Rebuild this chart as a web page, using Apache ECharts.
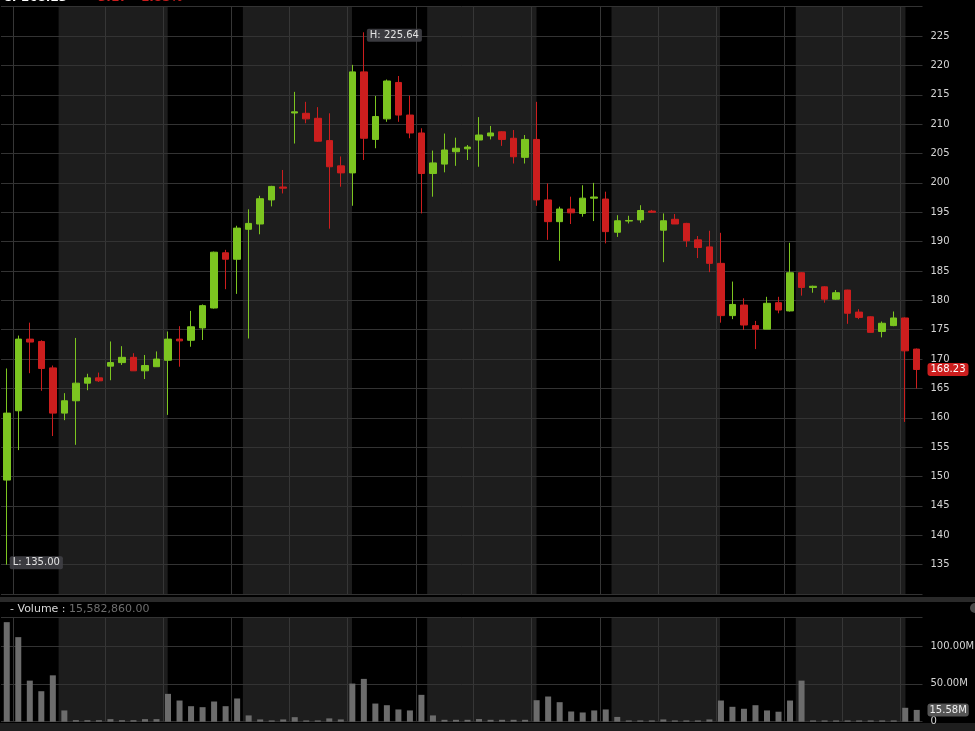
<!DOCTYPE html>
<html><head><meta charset="utf-8">
<script src="https://cdn.jsdelivr.net/npm/echarts@6/dist/echarts.min.js"></script>
<style>html,body{margin:0;padding:0;background:#000;}#c{width:975px;height:731px;}</style>
</head><body><div id="c"></div>
<script>
// ---- data ----
const categories = Array.from({length: 80}, (_, i) => String(i + 1));
const opens  = [149.4,161.2,173.4,173.0,168.5,160.8,162.9,165.9,166.8,168.8,169.4,170.3,168.0,168.7,169.8,173.4,173.2,175.3,178.7,188.1,
                187.0,192.1,193.0,197.1,199.3,211.9,211.85,211.0,207.2,202.9,201.7,218.9,207.4,210.9,217.1,211.55,208.5,201.6,203.2,205.3,
                205.8,207.3,208.0,208.7,207.6,204.35,207.4,197.1,193.4,195.55,194.8,197.4,197.25,191.6,193.5,193.7,195.2,191.95,193.8,193.1,
                190.3,189.1,186.3,177.4,179.2,175.7,175.1,179.6,178.2,184.7,182.2,182.3,180.2,181.75,178.0,177.2,174.7,175.7,177.0,171.7];
const closes = [160.8,173.4,172.9,168.4,160.8,162.9,165.9,166.8,166.3,169.4,170.3,168.0,168.9,170.0,173.4,173.1,175.5,179.1,188.2,187.0,
                192.3,193.1,197.3,199.4,199.1,212.1,210.9,207.1,202.75,201.7,218.9,207.6,211.3,217.35,211.55,208.5,201.6,203.4,205.6,205.9,
                206.1,208.15,208.5,207.4,204.45,207.4,197.1,193.4,195.55,194.9,197.4,197.6,191.7,193.55,193.6,195.3,195.0,193.55,193.0,190.15,
                189.0,186.3,177.4,179.3,175.8,175.1,179.5,178.35,184.7,182.2,182.4,180.2,181.3,177.8,177.1,174.55,176.1,177.0,171.4,168.23];
const lows   = [135.0,154.5,167.6,164.6,156.9,159.6,155.4,164.7,166.1,166.4,169.0,168.0,166.6,168.7,160.5,168.7,172.1,173.25,178.6,181.9,
                181.1,173.5,191.25,196.0,198.2,206.7,210.15,207.0,192.2,199.35,196.1,203.9,205.9,210.4,210.4,207.6,194.8,197.65,201.8,202.9,
                203.9,202.75,207.4,206.3,203.3,203.3,196.1,190.3,186.75,193.0,194.25,193.5,189.7,190.8,193.1,193.2,194.9,186.5,193.0,189.1,
                187.2,184.8,176.2,176.8,174.95,171.7,175.1,177.8,178.1,180.8,181.3,179.6,180.1,176.0,176.8,174.5,173.7,175.6,159.3,165.0];
const highs  = [168.4,174.0,176.2,173.2,168.9,164.2,173.6,167.5,167.7,173.0,172.2,171.0,170.7,171.3,174.7,175.6,178.2,179.3,188.3,188.6,
                192.7,195.5,197.8,199.5,202.2,215.5,213.8,212.9,211.85,204.5,220.1,225.64,214.8,217.6,218.2,214.85,209.3,205.5,208.4,207.7,
                206.45,211.2,209.7,208.8,209.0,208.15,213.8,199.9,195.95,197.65,199.6,200.0,198.5,194.5,194.4,196.2,195.4,194.8,194.7,193.2,
                190.95,191.85,191.5,183.2,180.35,176.5,180.6,180.6,189.8,184.8,182.5,182.4,181.75,181.8,178.5,177.3,176.4,178.1,177.1,171.8];
const volumes = [131600000,111800000,54300000,40300000,61300000,14900000,2100000,2000000,2000000,3400000,
                 2000000,2000000,3400000,3400000,36800000,28000000,20500000,19200000,26700000,20500000,
                 30700000,8300000,3000000,1700000,3000000,6000000,1700000,1700000,4400000,3000000,
                 50400000,56600000,24000000,21800000,16200000,14900000,35500000,8300000,2500000,2500000,
                 2500000,3500000,2500000,2500000,2500000,2500000,28400000,33300000,25800000,13500000,
                 12200000,14900000,16200000,6300000,1700000,1700000,1700000,3000000,1700000,1700000,
                 1700000,3000000,28000000,19700000,17100000,21800000,14900000,13200000,28000000,54300000,
                 1700000,1700000,1700000,1700000,1700000,1700000,1700000,1700000,18400000,15582860];
// session shading (in candle units) and session divider lines
const bandStarts = [5, 21, 37, 53, 69];
const bandEnds   = [14.47, 30.47, 46.49, 62.42, 78.52];
const dividers   = [1, 9, 14.04, 20, 25, 30.04, 36, 41, 46.04, 52, 57, 62.04, 68, 73, 78.04];
// axis ticks
const priceMin = 130, priceMax = 230, priceStep = 5;
const volMax = 137500000, volStep = 50000000;

// ---- build ----
const GREEN = '#7cc520', RED = '#cc1e1e';
const ohlc = opens.map((o, i) => [o, closes[i], lows[i], highs[i]]);
let hiIdx = 0, loIdx = 0;
highs.forEach((h, i) => { if (h > highs[hiIdx]) hiIdx = i; });
lows.forEach((l, i) => { if (l < lows[loIdx]) loIdx = i; });
const lastClose = closes[closes.length - 1];
const lastVol = volumes[volumes.length - 1];
const bands = bandStarts.map((s, i) => [s, bandEnds[i]]);
const divs = dividers.map(d => [d]);
const FONT = 'DejaVu Sans';

function bandRender(params, api) {
  const cs = params.coordSys;
  const x0 = api.coord([api.value(0), 0])[0];
  const x1 = api.coord([api.value(1), 0])[0];
  return {type: 'rect', z2: 0, shape: {x: x0, y: cs.y, width: x1 - x0, height: cs.height}, style: {fill: '#1d1d1d'}};
}
function divRender(params, api) {
  const cs = params.coordSys;
  const x = Math.round(api.coord([api.value(0), 0])[0]) + 0.5;
  return {type: 'line', z2: 10, shape: {x1: x, y1: cs.y, x2: x, y2: cs.y + cs.height}, style: {stroke: '#363636', lineWidth: 1}};
}

const chart = echarts.init(document.getElementById('c'), null, {renderer: 'canvas'});
const labelBox = {show: true, position: 'right', distance: 3, color: '#e2e2e2', backgroundColor: 'rgba(64,64,70,0.9)',
                  padding: [2, 3, 1, 3], borderRadius: 2, fontSize: 10, fontFamily: FONT};
const hiddenLine = {color: 'rgba(0,0,0,0)', width: 0, type: 'solid'};
chart.setOption({
  backgroundColor: '#000',
  animation: false,
  grid: [
    {left: 1, right: 52.5, top: 6.7, height: 587.3, outerBoundsMode: 'none'},
    {left: 1, right: 52.5, top: 617.7, height: 104, outerBoundsMode: 'none'}
  ],
  xAxis: [
    {type: 'category', gridIndex: 0, data: categories, show: false, boundaryGap: true},
    {type: 'category', gridIndex: 1, data: categories, show: false, boundaryGap: true},
    {type: 'value', gridIndex: 0, min: 0, max: categories.length, show: false},
    {type: 'value', gridIndex: 1, min: 0, max: categories.length, show: false}
  ],
  yAxis: [
    {type: 'value', gridIndex: 0, position: 'right', min: priceMin, max: priceMax, interval: priceStep, scale: true,
     axisLine: {show: false}, axisTick: {show: false},
     splitLine: {show: true, lineStyle: {color: '#333', width: 1}},
     axisLabel: {color: '#d4d4d4', fontFamily: FONT, fontSize: 10, margin: 8, showMinLabel: false, showMaxLabel: false,
                 formatter: v => (v === priceMin || v === priceMax) ? '' : String(v)}},
    {type: 'value', gridIndex: 1, position: 'right', min: 0, max: volMax, interval: volStep,
     axisLine: {show: false}, axisTick: {show: false},
     splitLine: {show: true, lineStyle: {color: '#333', width: 1}},
     axisLabel: {color: '#d4d4d4', fontFamily: FONT, fontSize: 10, margin: 8, showMaxLabel: false,
                 formatter: v => v === 0 ? '0' : (v >= volMax ? '' : (v / 1e6).toFixed(2) + 'M')}}
  ],
  series: [
    {type: 'custom', xAxisIndex: 2, yAxisIndex: 0, z: -1, silent: true, data: bands, renderItem: bandRender},
    {type: 'custom', xAxisIndex: 3, yAxisIndex: 1, z: -1, silent: true, data: bands, renderItem: bandRender},
    {type: 'custom', xAxisIndex: 2, yAxisIndex: 0, z: -1, silent: true, data: divs, renderItem: divRender},
    {type: 'custom', xAxisIndex: 3, yAxisIndex: 1, z: -1, silent: true, data: divs, renderItem: divRender},
    {type: 'candlestick', xAxisIndex: 0, yAxisIndex: 0, data: ohlc, barWidth: 7,
     itemStyle: {color: GREEN, color0: RED, borderColor: GREEN, borderColor0: RED, borderWidth: 1},
     markPoint: {symbol: 'circle', symbolSize: 0, silent: true, label: labelBox,
       data: [
         {coord: [categories[hiIdx], highs[hiIdx]], label: Object.assign({}, labelBox, {formatter: 'H: ' + highs[hiIdx].toFixed(2), offset: [0, 3]})},
         {coord: [categories[loIdx], lows[loIdx]], label: Object.assign({}, labelBox, {formatter: 'L: ' + lows[loIdx].toFixed(2), offset: [0, -2]})}
       ]},
     markLine: {symbol: ['none', 'none'], silent: true, lineStyle: hiddenLine,
       label: {show: true, position: 'end', distance: 5, formatter: lastClose.toFixed(2), color: '#fff', backgroundColor: RED,
               padding: [2, 3, 1, 3], borderRadius: 3, fontSize: 10, fontFamily: FONT, opacity: 1},
       data: [{yAxis: lastClose}]}
    },
    {type: 'bar', xAxisIndex: 1, yAxisIndex: 1, data: volumes, barWidth: 6, itemStyle: {color: '#6c6c6c'},
     markLine: {symbol: ['none', 'none'], silent: true, lineStyle: hiddenLine,
       label: {show: true, position: 'end', distance: 5, formatter: (lastVol / 1e6).toFixed(2) + 'M', color: '#eee', backgroundColor: '#555',
               padding: [2, 2, 1, 2], borderRadius: 3, fontSize: 10, fontFamily: FONT, opacity: 1},
       data: [{yAxis: lastVol}]}
    }
  ],
  graphic: [
    {type: 'rect', left: 0, top: 597, shape: {width: 975, height: 5}, style: {fill: '#2a2a2a'}, silent: true},
    {type: 'rect', left: 0, top: 723, shape: {width: 975, height: 8}, style: {fill: '#1e1e1e'}, silent: true},
    {type: 'circle', shape: {cx: 975, cy: 608, r: 5}, style: {fill: '#4a4a4a'}, silent: true},
    {type: 'text', x: 10, y: 609, silent: true,
     style: {text: '{a|- Volume :} {b|' + lastVol.toLocaleString('en-US', {minimumFractionDigits: 2, maximumFractionDigits: 2}) + '}',
             verticalAlign: 'middle', font: '11px "DejaVu Sans"',
             rich: {a: {fill: '#d8d8d8', fontSize: 11, fontFamily: FONT}, b: {fill: '#6e6e6e', fontSize: 11, fontFamily: FONT}}}},
    {type: 'text', x: 3, y: -2.5, silent: true,
     style: {text: 'C: ' + lastClose.toFixed(2), fill: '#fff', font: 'bold 12px "DejaVu Sans"', verticalAlign: 'middle'}},
    {type: 'text', x: 93, y: -2.5, silent: true,
     style: {text: (lastClose - closes[closes.length - 2]).toFixed(2) + '  ' + ((lastClose / closes[closes.length - 2] - 1) * 100).toFixed(2) + '%',
             fill: RED, font: 'bold 12px "DejaVu Sans"', verticalAlign: 'middle'}}
  ]
});
</script>
</body></html>
